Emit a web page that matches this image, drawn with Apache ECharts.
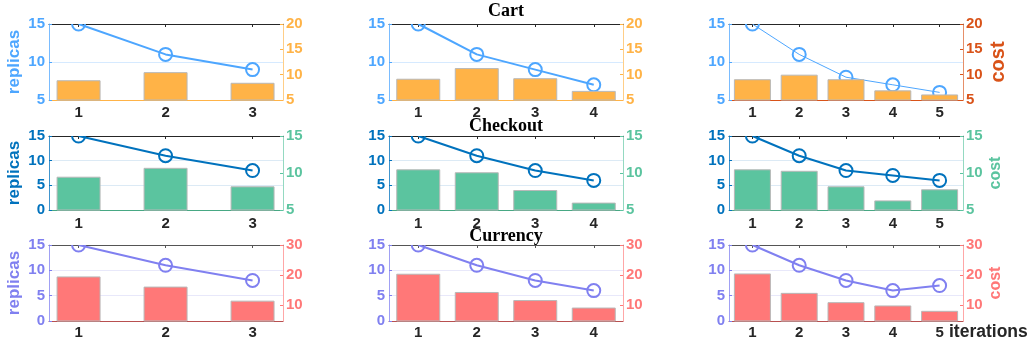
<!DOCTYPE html>
<html>
<head>
<meta charset="utf-8">
<script src="https://cdn.jsdelivr.net/npm/echarts@6/dist/echarts.min.js"></script>
<style>
  html, body { margin: 0; padding: 0; background: #ffffff; }
  #chart { width: 1033px; height: 349px; }
</style>
</head>
<body>
<div id="chart"></div>
<script>
// Autoscaling runs for three services (rows); each column is one run.
const services = ['Cart', 'Checkout', 'Currency'];
const iterations = [[1, 2, 3], [1, 2, 3, 4], [1, 2, 3, 4, 5]];

const cartReplicas = [[15, 11, 9], [15, 11, 9, 7], [15, 11, 8, 7, 6]];
const cartCost = [[8.9, 10.5, 8.4], [9.2, 11.3, 9.3, 6.8], [9.1, 10.0, 9.1, 6.9, 6.1]];

const checkoutReplicas = [[15, 11, 8], [15, 11, 8, 6], [15, 11, 8, 7, 6]];
const checkoutCost = [[9.5, 10.7, 8.2], [10.5, 10.1, 7.7, 6.0], [10.5, 10.3, 8.2, 6.3, 7.8]];

const currencyReplicas = [[15, 11, 8], [15, 11, 8, 6], [15, 11, 8, 6, 7]];
const currencyCost = [[19.5, 16.1, 11.4], [20.4, 14.3, 11.6, 9.1], [20.5, 14.0, 10.9, 9.8, 8.0]];

// Tick labels of the two y axes, one list per service row
const replicaTicks = [[5, 10, 15], [0, 5, 10, 15], [0, 5, 10, 15]];
const costTicks = [[5, 10, 15, 20], [5, 10, 15], [10, 20, 30]];

const replicas = [cartReplicas, checkoutReplicas, currencyReplicas];
const costs = [cartCost, checkoutCost, currencyCost];

// ---- layout and styling ----
const colLeft = [49, 389, 729];
const plotW = 234;
const rowTop = [24, 136, 245];
const rowH = [76, 74, 76];
const xRange = [[0.66, 3.35], [0.5, 4.5], [0.5, 5.5]];
const barW = [44, 44, 37];
const replicaRange = [[5, 15], [0, 15], [0, 15]];
const costRange = [[5, 20], [5, 15], [4.6, 30]];

const rowStyle = [
  { rep: '#4DA6FF', cost: '#FFB347', grid: '#D6EAFF', base: '#FFB347', top: '#262626', xMargin: 5, nameCost: 20 },
  { rep: '#0072BD', cost: '#5BC49F', grid: '#DCEAF5', base: '#48A884', top: '#262626', xMargin: 6, nameCost: 16 },
  { rep: '#8080F0', cost: '#FF7878', grid: '#E8E8FA', base: '#B85050', top: '#555555', xMargin: 4, nameCost: 16 }
];

const FONT = 'Liberation Sans';
const grids = [], xAxes = [], yAxes = [], series = [], graphics = [];

for (let r = 0; r < 3; r++) {
  for (let c = 0; c < 3; c++) {
    const p = r * 3 + c;
    const st = rowStyle[r];
    // the last Cart run draws its cost axis in the darker orange
    const axisColor = (r === 0 && c === 2) ? '#D95319' : st.cost;
    const baseColor = (r === 0 && c === 2) ? '#D95319' : st.base;
    const lineW = (r === 0 && c === 2) ? 1 : 2;
    const its = iterations[c];

    grids.push({ left: colLeft[c], top: rowTop[r], width: plotW, height: rowH[r], containLabel: false });

    // bottom axis with iteration labels
    xAxes.push({
      type: 'value', gridIndex: p, position: 'bottom',
      min: xRange[c][0], max: xRange[c][1],
      axisLine: { show: true, onZero: false, lineStyle: { color: baseColor, width: 1 } },
      axisTick: { show: false },
      splitLine: { show: false },
      axisLabel: {
        customValues: its, margin: st.xMargin,
        color: '#262626', fontFamily: FONT, fontWeight: 'bold', fontSize: 15
      }
    });
    // top border with inward ticks
    xAxes.push({
      type: 'value', gridIndex: p, position: 'top',
      min: xRange[c][0], max: xRange[c][1],
      axisLine: { show: true, onZero: false, lineStyle: { color: st.top, width: 1 } },
      axisTick: { show: true, inside: true, length: 3, customValues: its, lineStyle: { color: st.top } },
      axisLabel: { show: false },
      splitLine: { show: false }
    });

    // left axis: replicas
    yAxes.push({
      type: 'value', gridIndex: p, position: 'left',
      min: replicaRange[r][0], max: replicaRange[r][1], interval: 5,
      name: c === 0 ? 'replicas' : '',
      nameLocation: 'middle', nameGap: 26,
      nameTextStyle: { color: st.rep, fontFamily: FONT, fontWeight: 'bold', fontSize: 17 },
      axisLine: { show: true, onZero: false, lineStyle: { color: st.rep, opacity: 0.75 } },
      axisTick: { show: true, inside: true, length: 3, customValues: replicaTicks[r], lineStyle: { color: st.rep } },
      axisLabel: {
        customValues: replicaTicks[r], margin: 4,
        color: st.rep, fontFamily: FONT, fontWeight: 'bold', fontSize: 15
      },
      splitLine: { show: true, lineStyle: { color: st.grid, width: 1 } }
    });
    // right axis: cost
    yAxes.push({
      type: 'value', gridIndex: p, position: 'right',
      min: costRange[r][0], max: costRange[r][1],
      name: c === 2 ? 'cost' : '',
      nameLocation: 'middle', nameGap: 25, nameRotate: 90,
      nameTextStyle: { color: axisColor, fontFamily: FONT, fontWeight: 'bold', fontSize: st.nameCost },
      axisLine: { show: true, onZero: false, lineStyle: { color: axisColor, opacity: 0.65 } },
      axisTick: { show: true, inside: true, length: 3, customValues: costTicks[r], lineStyle: { color: axisColor } },
      axisLabel: {
        customValues: costTicks[r], margin: 3,
        color: axisColor, fontFamily: FONT, fontWeight: 'bold', fontSize: 15
      },
      splitLine: { show: false }
    });

    series.push({
      type: 'bar', name: services[r] + ' cost',
      xAxisIndex: 2 * p, yAxisIndex: 2 * p + 1,
      data: its.map((x, i) => [x, costs[r][c][i]]),
      barWidth: barW[c],
      clip: true,
      itemStyle: { color: st.cost, borderColor: '#B8B8B8', borderWidth: 1 },
      z: 3
    });
    series.push({
      type: 'line', name: services[r] + ' replicas',
      xAxisIndex: 2 * p, yAxisIndex: 2 * p,
      data: its.map((x, i) => [x, replicas[r][c][i]]),
      symbol: 'circle', symbolSize: 13,
      clip: true,
      lineStyle: { color: st.rep, width: lineW },
      itemStyle: { color: 'rgba(255,255,255,0)', borderColor: st.rep, borderWidth: 2 },
      z: 2
    });

    // hide the part of markers sticking out above the plot box
    graphics.push({
      type: 'rect', z: 50, silent: true,
      shape: { x: colLeft[c] + 1, y: rowTop[r] - 9, width: plotW - 2, height: 9 },
      style: { fill: '#ffffff' }
    });
  }
}

// service titles above the middle column
const titleBaseline = [17.3, 132.3, 242];
services.forEach((s, r) => {
  graphics.push({
    type: 'text', z: 100, silent: true,
    style: {
      text: s, x: colLeft[1] + plotW / 2, y: titleBaseline[r] - 6,
      align: 'center', verticalAlign: 'middle',
      font: 'bold 18px "Liberation Serif"', fill: '#000000'
    }
  });
});

// x axis title next to the last tick
graphics.push({
  type: 'text', z: 100, silent: true,
  style: {
    text: 'iterations', x: 949, y: 332.3,
    align: 'left', verticalAlign: 'middle',
    font: 'bold 17.5px "Liberation Sans"', fill: '#262626'
  }
});

const chart = echarts.init(document.getElementById('chart'), null, { renderer: 'canvas' });
chart.setOption({
  animation: false,
  backgroundColor: '#ffffff',
  grid: grids,
  xAxis: xAxes,
  yAxis: yAxes,
  series: series,
  graphic: { elements: graphics }
});
</script>
</body>
</html>
